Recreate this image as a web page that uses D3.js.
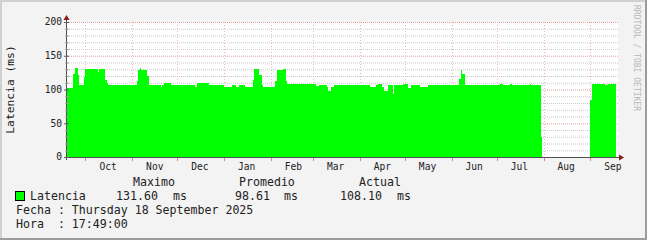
<!DOCTYPE html>
<html>
<head>
<meta charset="utf-8">
<script src="https://cdn.jsdelivr.net/npm/d3@7"></script>
<style>
  body { margin: 0; background: #f3f3f3; }
  text { font-family: "DejaVu Sans Mono", monospace; fill: #222; }
</style>
</head>
<body>
<div id="chart"></div>
<script>
// The svg
var width = 647;
var height = 240;

// data: start date of each step and its value (null = no data)
var stepDates = [
    "2024-09-18", "2024-09-23", "2024-09-24", "2024-09-26", "2024-09-27", "2024-09-30",
    "2024-10-01", "2024-10-09", "2024-10-10", "2024-10-14", "2024-10-15", "2024-10-16",
    "2024-11-04", "2024-11-05", "2024-11-06", "2024-11-07", "2024-11-11", "2024-11-12",
    "2024-11-20", "2024-11-21", "2024-11-22", "2024-11-27", "2024-12-11", "2024-12-13",
    "2024-12-14", "2024-12-22", "2025-01-01", "2025-01-06", "2025-01-09", "2025-01-11",
    "2025-01-15", "2025-01-16", "2025-01-19", "2025-01-20", "2025-01-21", "2025-01-24",
    "2025-01-26", "2025-01-27", "2025-01-28", "2025-02-04", "2025-02-05", "2025-02-09",
    "2025-02-11", "2025-02-12", "2025-03-03", "2025-03-05", "2025-03-10", "2025-03-11",
    "2025-03-13", "2025-03-15", "2025-04-08", "2025-04-12", "2025-04-13", "2025-04-16",
    "2025-04-17", "2025-04-20", "2025-04-21", "2025-04-23", "2025-04-24", "2025-04-30",
    "2025-05-03", "2025-05-05", "2025-05-11", "2025-05-16", "2025-06-06", "2025-06-07",
    "2025-06-08", "2025-06-10", "2025-07-03", "2025-07-05", "2025-07-10", "2025-07-11",
    "2025-07-23", "2025-07-24", "2025-07-29", "2025-07-30", "2025-07-31", "2025-09-01",
    "2025-09-02", "2025-09-11", "2025-09-13"
];
var latencia = [
    102, 123, 132, 121, 107, 119,
    130, 126, 130, 114, 109, 107,
    112, 129, 132, 129, 120, 107,
    104, 107, 109, 107, 106, 104,
    109, 107, 103, 107, 103, 107,
    104, 103, 104, 114, 130, 121,
    107, 104, 103, 112, 129, 130,
    112, 108, 105, 107, 104, 98,
    104, 107, 103, 106, 108, 104,
    98, 106, 107, 94, 107, 108,
    102, 107, 103, 107, 115, 129,
    123, 107, 108, 107, 108, 107,
    108, 107, 106, 30, null, 84,
    108, 107, 108
];
var lastDate = "2025-09-18";

var yTicks = [0, 50, 100, 150, 200];
var legendHeads = ["Maximo", "Promedio", "Actual"];
var legendValues = ["131.60", "98.61", "108.10"];

var parse = d3.utcParse("%Y-%m-%d");

var svg = d3.select("#chart")
    .append("svg")
    .attr("width", width)
    .attr("height", height);

// background with rrdtool style shading
svg.append("rect").attr("width", width).attr("height", height).attr("fill", "#f3f3f3");
svg.append("rect").attr("x", 0).attr("y", 0).attr("width", width).attr("height", 2).attr("fill", "#d0d0d0");
svg.append("rect").attr("x", 0).attr("y", 0).attr("width", 2).attr("height", height).attr("fill", "#d0d0d0");
svg.append("rect").attr("x", 0).attr("y", height - 2).attr("width", width).attr("height", 2).attr("fill", "#9c9c9c");
svg.append("rect").attr("x", width - 2).attr("y", 0).attr("width", 2).attr("height", height).attr("fill", "#9c9c9c");

// scales
var x = d3.scaleUtc()
    .domain([new Date(Date.UTC(2024, 8, 18, 17, 49)), new Date(Date.UTC(2025, 8, 18, 17, 49))])
    .range([67, 617])
    .clamp(true);

var y = d3.scaleLinear()
    .domain([0, 200])
    .range([157, 22]);

// canvas
svg.append("rect")
    .attr("x", x.range()[0]).attr("y", y(200))
    .attr("width", x.range()[1] - x.range()[0] + 1)
    .attr("height", y(0) - y(200))
    .attr("fill", "white");

// minor horizontal grid
svg.append("g")
    .selectAll("line")
    .data(d3.range(10, 200, 10).filter(function (d) { return d % 50 != 0 }))
    .enter()
    .append("line")
    .attr("x1", 67).attr("x2", 618)
    .attr("y1", function (d) { return y(d) + 0.5 })
    .attr("y2", function (d) { return y(d) + 0.5 })
    .attr("stroke", "#c8c8c8")
    .attr("stroke-dasharray", "1,1");

// major horizontal grid
svg.append("g")
    .selectAll("line")
    .data(yTicks.slice(1))
    .enter()
    .append("line")
    .attr("x1", 67).attr("x2", 618)
    .attr("y1", function (d) { return y(d) + 0.5 })
    .attr("y2", function (d) { return y(d) + 0.5 })
    .attr("stroke", "#e8a0a0")
    .attr("stroke-dasharray", "1,1");

// month lines
var months = d3.utcMonth.range(new Date(Date.UTC(2024, 9, 1)), new Date(Date.UTC(2025, 8, 2)));
svg.append("g")
    .selectAll("line")
    .data(months)
    .enter()
    .append("line")
    .attr("x1", function (d) { return Math.round(x(d)) + 0.5 })
    .attr("x2", function (d) { return Math.round(x(d)) + 0.5 })
    .attr("y1", y(200)).attr("y2", y(0))
    .attr("stroke", "#ecb4b4")
    .attr("stroke-dasharray", "1,2");

// build step points
var points = [];
stepDates.forEach(function (d, i) {
    var end = i < stepDates.length - 1 ? stepDates[i + 1] : lastDate;
    points.push({ date: parse(d), value: latencia[i] });
    points.push({ date: parse(end), value: latencia[i] });
});

var area = d3.area()
    .defined(function (d) { return d.value != null })
    .x(function (d) { return x(d.date) })
    .y0(y(0))
    .y1(function (d) { return y(d.value) });

svg.append("path")
    .datum(points)
    .attr("d", area)
    .attr("fill", "#00ff00")
    .attr("shape-rendering", "crispEdges");

// axes
svg.append("line")
    .attr("x1", 64).attr("x2", 620)
    .attr("y1", 157.5).attr("y2", 157.5)
    .attr("stroke", "#505050");
svg.append("line")
    .attr("x1", 66.5).attr("x2", 66.5)
    .attr("y1", 160).attr("y2", 19)
    .attr("stroke", "#505050");

// month ticks below the axis
svg.append("g")
    .selectAll("line")
    .data(months)
    .enter()
    .append("line")
    .attr("x1", function (d) { return Math.round(x(d)) + 0.5 })
    .attr("x2", function (d) { return Math.round(x(d)) + 0.5 })
    .attr("y1", 158).attr("y2", 161)
    .attr("stroke", "#e08080");

// arrows
svg.append("path").attr("d", "M619,154.5 L624,157.5 L619,160.5 Z").attr("fill", "#8b1a1a");
svg.append("path").attr("d", "M63.5,20 L66.5,15 L69.5,20 Z").attr("fill", "#8b1a1a");

// y ticks and labels
svg.append("g")
    .selectAll("line")
    .data(d3.range(0, 201, 10))
    .enter()
    .append("line")
    .attr("x1", function (d) { return d % 50 == 0 ? 64 : 65 })
    .attr("x2", 69)
    .attr("y1", function (d) { return y(d) + 0.5 })
    .attr("y2", function (d) { return y(d) + 0.5 })
    .attr("stroke", function (d) { return d % 50 == 0 ? "#606060" : "#a0a0a0" });

svg.append("g")
    .selectAll("text")
    .data(yTicks)
    .enter()
    .append("text")
    .attr("x", 62)
    .attr("y", function (d) { return y(d) })
    .attr("dy", "0.36em")
    .attr("text-anchor", "end")
    .style("font-size", "9.6px")
    .text(function (d) { return d });

// x labels (centered mid month)
svg.append("g")
    .selectAll("text")
    .data(months)
    .enter()
    .append("text")
    .attr("x", function (d) { return x(d3.utcDay.offset(d, 15)) })
    .attr("y", 170)
    .attr("text-anchor", "middle")
    .style("font-size", "9.6px")
    .text(function (d) { return d3.utcFormat("%b")(d) });

// y title
svg.append("text")
    .attr("transform", "translate(14,89.5) rotate(-90)")
    .attr("text-anchor", "middle")
    .style("font-size", "11.3px")
    .text("Latencia (ms)");

// watermark
svg.append("text")
    .attr("transform", "translate(634,5) rotate(90)")
    .attr("text-anchor", "start")
    .style("font-size", "8px")
    .style("fill", "#b8b8b8")
    .text("RRDTOOL / TOBI OETIKER");

// legend
var legendFont = "11.6px";
var headX = [133, 239, 359];
svg.append("g")
    .selectAll("text")
    .data(legendHeads)
    .enter()
    .append("text")
    .attr("x", function (d, i) { return headX[i] })
    .attr("y", 186)
    .style("font-size", legendFont)
    .text(function (d) { return d });

svg.append("rect")
    .attr("x", 15.5).attr("y", 191.5)
    .attr("width", 9).attr("height", 9)
    .attr("fill", "#00ff00")
    .attr("stroke", "#000");

svg.append("text").attr("x", 30).attr("y", 200).style("font-size", legendFont).text("Latencia");

var valueX = [116, 235, 340];
var unitX = [173, 284, 397];
legendValues.forEach(function (v, i) {
    svg.append("text").attr("x", valueX[i]).attr("y", 200).style("font-size", legendFont).text(v);
    svg.append("text").attr("x", unitX[i]).attr("y", 200).style("font-size", legendFont).text("ms");
});

svg.append("text").attr("x", 16).attr("y", 214).style("font-size", legendFont)
    .text("Fecha : Thursday 18 September 2025");
svg.append("text").attr("x", 16).attr("y", 228).style("font-size", legendFont)
    .attr("xml:space", "preserve")
    .text("Hora  : 17:49:00");
</script>
</body>
</html>
